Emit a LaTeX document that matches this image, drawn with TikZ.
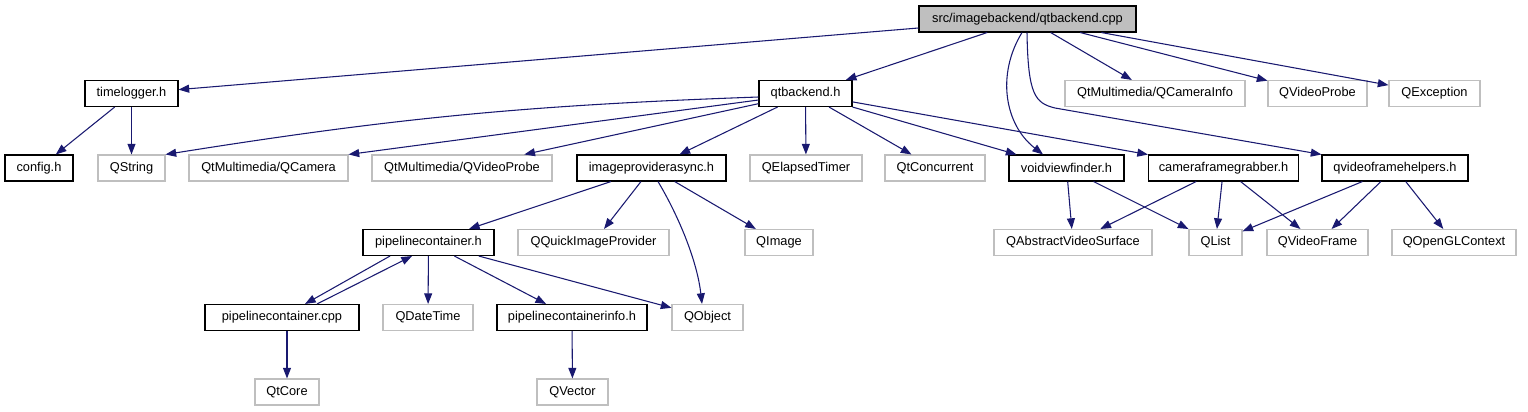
\documentclass[tikz,border=0pt]{standalone}
\usepackage{fontspec}
\setmainfont{Liberation Sans}
\usepackage{tikz}
\usetikzlibrary{arrows.meta, calc}
\definecolor{cEdge}{RGB}{25,25,112}
\definecolor{cGrey}{RGB}{191,191,191}
\tikzset{
	hdr/.style     ={rectangle, draw=black, line width=0.8pt, minimum height=19.5pt, inner sep=0pt, text centered},
	ext/.style     ={rectangle, draw=cGrey, line width=0.8pt, minimum height=19.5pt, inner sep=0pt, text centered},
	rootblk/.style ={hdr, fill=cGrey},
	wd/.style      ={minimum width=0.75pt*#1},
	dep/.style     ={-{Triangle[length=8pt, width=6pt]}, draw=cEdge, line width=0.8pt},
}

\begin{document}
\begin{tikzpicture}[x=0.75pt, y=-0.75pt, font=\fontsize{9.6}{11}\selectfont]
			\useasboundingbox (0,0) rectangle (1528,411);
			% top
			\node[rootblk, wd=217] (cpp) at (1027.5,19) {src/imagebackend/qtbackend.cpp};
			% first level
			\node[hdr, wd=93] (tlog) at (131.5,93.5) {timelogger.h};
			\node[hdr, wd=93] (qtb) at (805.5,93.5) {qtbackend.h};
			\node[ext, wd=180] (qcaminfo) at (1155,93.5) {QtMultimedia/QCameraInfo};
			\node[ext, wd=99] (qvprobe) at (1317.5,93.5) {QVideoProbe};
			\node[ext, wd=91] (qexc) at (1434.5,93.5) {QException};
			% second level
			\node[hdr, wd=68] (config) at (39,168) {config.h};
			\node[ext, wd=67] (qstring) at (131.5,168) {QString};
			\node[ext, wd=159] (qcamera) at (268.5,168) {QtMultimedia/QCamera};
			\node[ext, wd=180] (qmmprobe) at (462,168) {QtMultimedia/QVideoProbe};
			\node[hdr, wd=149] (ipa) at (651.5,168) {imageproviderasync.h};
			\node[ext, wd=112] (qetimer) at (806,168) {QElapsedTimer};
			\node[ext, wd=100] (qconc) at (935,168) {QtConcurrent};
			\node[hdr, wd=115] (vvf) at (1066.5,168) {voidviewfinder.h};
			\node[hdr, wd=150] (cfg) at (1223.5,168) {cameraframegrabber.h};
			\node[hdr, wd=146] (qvfh) at (1395,168) {qvideoframehelpers.h};
			% third level
			\node[hdr, wd=131] (pch) at (428.5,242.5) {pipelinecontainer.h};
			\node[ext, wd=151] (qqip) at (593.5,242.5) {QQuickImageProvider};
			\node[ext, wd=68] (qimage) at (779,242.5) {QImage};
			\node[ext, wd=158] (qavs) at (1073,242.5) {QAbstractVideoSurface};
			\node[ext, wd=53] (qlist) at (1215.5,242.5) {QList};
			\node[ext, wd=101] (qvframe) at (1317.5,242.5) {QVideoFrame};
			\node[ext, wd=124] (qglctx) at (1454,242.5) {QOpenGLContext};
			% fourth level
			\node[hdr, wd=154] (pcpp) at (282,317.5) {pipelinecontainer.cpp};
			\node[ext, wd=90] (qdatetime) at (428,317.5) {QDateTime};
			\node[hdr, wd=150] (pcinfo) at (572,317.5) {pipelinecontainerinfo.h};
			\node[ext, wd=71] (qobject) at (707.5,317.5) {QObject};
			% fifth level
			\node[ext, wd=64] (qtcore) at (287,392) {QtCore};
			\node[ext, wd=71] (qvector) at (572.5,392) {QVector};

			\draw[dep] (cpp) -- (tlog);
			\draw[dep] (cpp) -- (qtb);
			\draw[dep] (cpp) -- (qcaminfo);
			\draw[dep] (cpp) -- (qvprobe);
			\draw[dep] (cpp) -- (qexc);
			\draw[dep] ($(cpp.south)+(-5.5,0)$) .. controls (996,75) and (1005,125) .. ($(vvf.north)+(-23.5,0)$);
			\draw[dep] ($(cpp.south)+(-0.5,0)$) .. controls (1028,95) and (1035,103) .. (1055,108) -- (qvfh.north west);
			\draw[dep] (tlog) -- (config);
			\draw[dep] (tlog) -- (qstring);
			\draw[dep] ($(qtb.west)+(0,3.5)$) to[bend right=3.5] (qstring.north east);
			\draw[dep] ($(qtb.west)+(0,6.5)$) -- (qcamera.north east);
			\draw[dep] (qtb) -- (qmmprobe);
			\draw[dep] (qtb) -- (ipa);
			\draw[dep] (qtb) -- (qetimer);
			\draw[dep] (qtb) -- (qconc);
			\draw[dep] (qtb.south east) -- ($(vvf.north)+(-50,0)$);
			\draw[dep] (qtb) -- (cfg);
			\draw[dep] (ipa) -- (pch);
			\draw[dep] (ipa) -- (qqip);
			\draw[dep] ($(ipa.south)+(6.5,0)$) .. controls (678,215) and (697,260) .. ($(qobject.north)+(-5.5,0)$);
			\draw[dep] (ipa) -- (qimage);
			\draw[dep] ($(pch.south)+(-38.5,0)$) -- ($(pcpp.north)+(23,0)$);
			\draw[dep] ($(pcpp.north)+(35,0)$) -- ($(pch.south)+(-16.5,0)$);
			\draw[dep] (pch) -- (qdatetime);
			\draw[dep] (pch) -- (pcinfo);
			\draw[dep] (pch) -- (qobject);
			\draw[dep] (pcpp.south -| qtcore.north) -- (qtcore.north);
			\draw[dep] (pcinfo) -- (qvector);
			\draw[dep] (vvf) -- (qavs);
			\draw[dep] (vvf) -- (qlist);
			\draw[dep] (cfg) -- (qavs);
			\draw[dep] (cfg) -- (qlist);
			\draw[dep] (cfg) -- (qvframe);
			\draw[dep] (qvfh) -- (qlist);
			\draw[dep] (qvfh) -- (qvframe);
			\draw[dep] (qvfh) -- (qglctx);
		\end{tikzpicture}
\end{document}
